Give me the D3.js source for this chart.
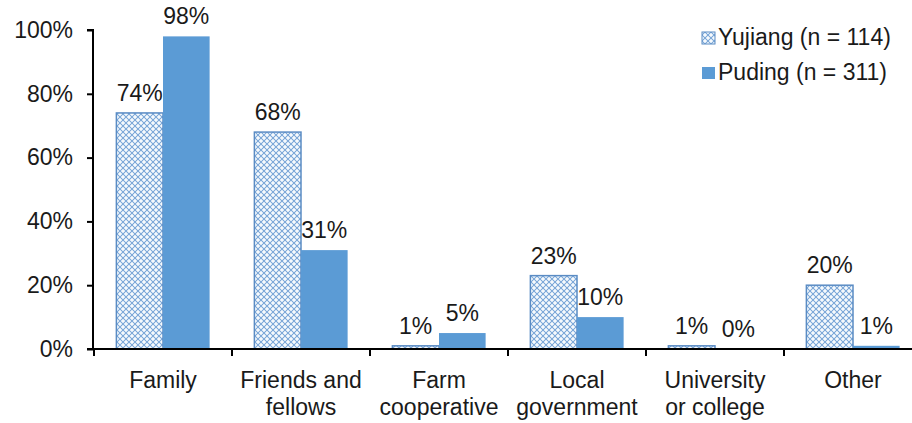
<!DOCTYPE html>
<html>
<head>
<meta charset="utf-8">
<script src="https://cdn.jsdelivr.net/npm/d3@7"></script>
<style>
  body { margin: 0; background: #fff; }
  text { font-family: "Liberation Sans", Arial, sans-serif; fill: #1a1a1a; }
</style>
</head>
<body>
<div id="chart"></div>
<script>
// Chart data
var categories = [["Family"], ["Friends and", "fellows"], ["Farm", "cooperative"],
                  ["Local", "government"], ["University", "or college"], ["Other"]];
var yujiang = [74, 68, 1, 23, 1, 20];
var puding = [98, 31, 5, 10, 0, 1];
var seriesNames = ["Yujiang (n = 114)", "Puding (n = 311)"];
var yTicks = [0, 20, 40, 60, 80, 100];

var width = 912, height = 423;
var plotLeft = 94, bandW = 138, plotTop = 30, plotBottom = 349;
var fontSize = '23px';

var svg = d3.select('#chart').append('svg')
  .attr('width', width).attr('height', height);

// hatch pattern for Yujiang bars
var defs = svg.append('defs');
var pat = defs.append('pattern')
  .attr('id', 'hatch').attr('patternUnits', 'userSpaceOnUse')
  .attr('width', 6).attr('height', 6);
pat.append('rect').attr('width', 6).attr('height', 6).attr('fill', '#d6e5f4');
pat.append('path').attr('d', 'M0,3 L3,0 L6,3 L3,6 Z')
  .attr('fill', 'none').attr('stroke', '#7fa9d8').attr('stroke-width', 1);
[[3, 3], [0, 0], [6, 0], [0, 6], [6, 6]].forEach(function (p) {
  pat.append('circle').attr('cx', p[0]).attr('cy', p[1]).attr('r', 1.1).attr('fill', '#ffffff');
});

var x = d3.scaleBand()
  .domain(d3.range(categories.length))
  .range([plotLeft, plotLeft + bandW * categories.length])
  .paddingInner(0).paddingOuter(0);
var inner = d3.scaleBand().domain([0, 1])
  .range([0, x.bandwidth()]).paddingOuter(0.48).paddingInner(0);
var y = d3.scaleLinear().domain([0, 100]).range([plotBottom, plotTop]);

var series = [
  { name: seriesNames[0], values: yujiang, fill: 'url(#hatch)', stroke: '#5b8cc4' },
  { name: seriesNames[1], values: puding, fill: '#5b9bd5', stroke: 'none' }
];

// bars and value labels
series.forEach(function (s, si) {
  var g = svg.append('g');
  g.selectAll('rect').data(s.values).enter().append('rect')
    .attr('x', function (d, i) { return x(i) + inner(si); })
    .attr('y', function (d) { return y(d); })
    .attr('width', inner.bandwidth())
    .attr('height', function (d) { return plotBottom - y(d); })
    .attr('fill', s.fill)
    .attr('stroke', s.stroke)
    .attr('stroke-width', 1.5);
  g.selectAll('text').data(s.values).enter().append('text')
    .attr('x', function (d, i) { return x(i) + inner(si) + inner.bandwidth() / 2; })
    .attr('y', function (d) { return y(d) - 12; })
    .attr('text-anchor', 'middle')
    .style('font-size', fontSize)
    .text(function (d) { return d + '%'; });
});

// y axis
var yAxis = d3.axisLeft(y).tickValues(yTicks)
  .tickFormat(function (d) { return d + '%'; })
  .tickSize(6).tickPadding(14);
var yg = svg.append('g').attr('transform', 'translate(' + (plotLeft - 1) + ',0)').call(yAxis);
yg.select('.domain').attr('d', 'M-6,' + plotTop + 'H0V' + plotBottom)
  .attr('stroke', '#000').attr('stroke-width', 2);
yg.selectAll('.tick line').attr('stroke', '#000').attr('stroke-width', 2);
yg.selectAll('.tick text').style('font-size', fontSize)
  .style('font-family', '"Liberation Sans", Arial, sans-serif').attr('fill', '#1a1a1a');

// x axis
svg.append('line').attr('x1', plotLeft - 7).attr('x2', width).attr('y1', plotBottom).attr('y2', plotBottom)
  .attr('stroke', '#000').attr('stroke-width', 2);
svg.selectAll('.xtick').data(d3.range(categories.length)).enter().append('line')
  .attr('x1', function (d) { return x(d); }).attr('x2', function (d) { return x(d); })
  .attr('y1', plotBottom).attr('y2', plotBottom + 7)
  .attr('stroke', '#000').attr('stroke-width', 2);

var labels = svg.selectAll('.xlab').data(categories).enter().append('text')
  .attr('text-anchor', 'middle')
  .attr('transform', function (d, i) { return 'translate(' + (x(i) + x.bandwidth() / 2) + ',388)'; })
  .style('font-size', fontSize);
labels.selectAll('tspan').data(function (d) { return d; }).enter().append('tspan')
  .attr('x', 0).attr('dy', function (d, i) { return i === 0 ? 0 : 27; })
  .text(function (d) { return d; });

// legend
var lg = svg.selectAll('.leg').data(series).enter().append('g')
  .attr('transform', function (d, i) { return 'translate(702,' + (32 + i * 35) + ')'; });
lg.append('rect').attr('width', 13).attr('height', 12)
  .attr('fill', function (d) { return d.fill; })
  .attr('stroke', function (d) { return d.stroke; }).attr('stroke-width', 1);
lg.append('text').attr('x', 16).attr('y', 13).style('font-size', fontSize)
  .text(function (d) { return d.name; });
</script>
</body>
</html>
